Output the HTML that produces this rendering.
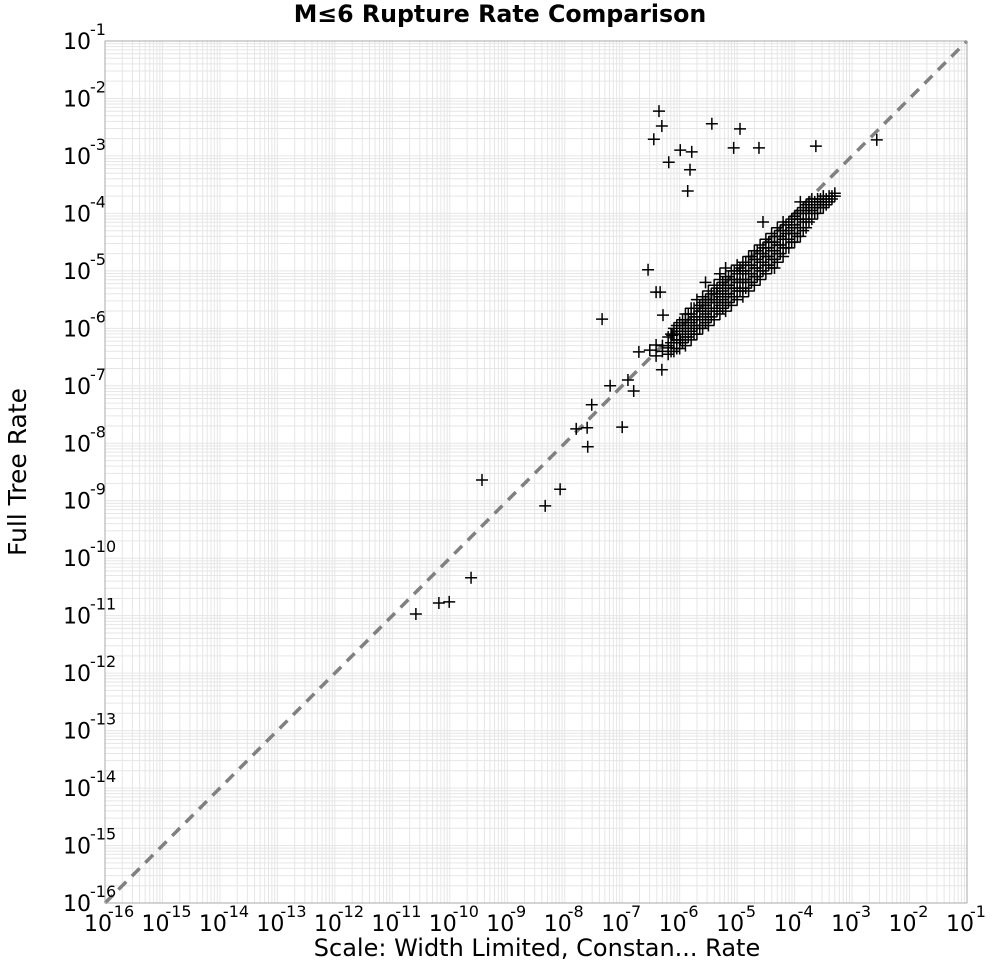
<!DOCTYPE html>
<html><head><meta charset="utf-8"><style>
body{margin:0;background:#fff;}
svg{display:block;font-family:"Liberation Sans","DejaVu Sans",sans-serif;}
</style></head><body>
<svg id="chart" width="1000" height="965" xmlns="http://www.w3.org/2000/svg">
<text x="500" y="22" text-anchor="middle" font-size="23.7" font-weight="bold" font-family="DejaVu Sans, sans-serif">M≤6 Rupture Rate Comparison</text>
<text x="537" y="956" text-anchor="middle" font-size="24" font-family="DejaVu Sans, sans-serif">Scale: Width Limited, Constan... Rate</text>
<text x="0" y="0" transform="translate(26,472) rotate(-90)" text-anchor="middle" font-size="25" font-family="DejaVu Sans, sans-serif">Full Tree Rate</text>
<g id="grid"></g><g id="diag"></g><g id="pts"></g><g id="ticks"></g>
<rect x="105" y="41" width="862" height="862" fill="none" stroke="#aaa" stroke-width="1"/>
</svg>
<script>
const xTickExps = [-16,-15,-14,-13,-12,-11,-10,-9,-8,-7,-6,-5,-4,-3,-2,-1];
const yTickExps = [-16,-15,-14,-13,-12,-11,-10,-9,-8,-7,-6,-5,-4,-3,-2,-1];
const outlierX = [-6.36,-6.31,-6.45,-5.44,-4.95,-5.06,-4.62,-5.99,-5.79,-6.19,-5.82,-5.86,-3.63,-2.57,-6.55,-6.34,-6.41,-7.35,-6.29,-6.71,-6.52,-6.41,-6.31,-7.21,-6.90,-6.80,-7.53,-7.61,-7.00,-7.80,-7.60,-9.44,-8.08,-8.34,-9.63,-10.19,-10.01,-10.59,-6.13,-5.99,-6.41,-6.20,-5.55,-5.30,-4.55,-4.35];
const outlierY = [-2.22,-2.48,-2.71,-2.44,-2.53,-2.86,-2.86,-2.90,-2.93,-3.11,-3.24,-3.61,-2.83,-2.72,-4.98,-5.37,-5.37,-5.84,-5.77,-6.41,-6.38,-6.29,-6.72,-7.00,-6.90,-7.09,-7.33,-7.73,-7.72,-7.75,-8.06,-8.64,-8.80,-9.09,-10.34,-10.78,-10.76,-10.97,-6.12,-6.20,-6.48,-6.34,-5.20,-5.05,-4.15,-4.95];
const clusterX = [
-6.3,-6.3,-6.2,-6.2,-6.2,-6.1,-6.1,-6.1,-6.1,-6.0,-6.0,-6.0,-6.0,
-5.9,-5.9,-5.9,-5.9,-5.9,-5.8,-5.8,-5.8,-5.8,-5.8,-5.7,-5.7,-5.7,-5.7,-5.7,
-5.6,-5.6,-5.6,-5.6,-5.6,-5.5,-5.5,-5.5,-5.5,-5.5,-5.4,-5.4,-5.4,-5.4,-5.4,
-5.3,-5.3,-5.3,-5.3,-5.3,-5.2,-5.2,-5.2,-5.2,-5.2,-5.2,-5.1,-5.1,-5.1,-5.1,-5.1,
-5.0,-5.0,-5.0,-5.0,-5.0,-4.9,-4.9,-4.9,-4.9,-4.9,-4.8,-4.8,-4.8,-4.8,-4.8,
-4.7,-4.7,-4.7,-4.7,-4.7,-4.6,-4.6,-4.6,-4.6,-4.6,-4.5,-4.5,-4.5,-4.5,-4.5,
-4.4,-4.4,-4.4,-4.4,-4.4,-4.3,-4.3,-4.3,-4.3,-4.3,-4.2,-4.2,-4.2,-4.2,-4.2,
-4.1,-4.1,-4.1,-4.1,-4.0,-4.0,-4.0,-4.0,-3.9,-3.9,-3.9,-3.9,-3.9,
-3.8,-3.8,-3.8,-3.8,-3.7,-3.7,-3.7,-3.7,-3.6,-3.6,-3.6,-3.5,-3.5,-3.5,-3.4,-3.4,-3.3,-3.3];
const clusterY = [
-6.4,-6.3,-6.45,-6.3,-6.15,-6.4,-6.25,-6.1,-6.0,-6.35,-6.2,-6.05,-5.9,
-6.3,-6.15,-6.0,-5.85,-5.75,-6.2,-6.05,-5.9,-5.75,-5.65,-6.1,-5.95,-5.8,-5.65,-5.5,
-6.0,-5.85,-5.7,-5.55,-5.45,-5.95,-5.8,-5.65,-5.5,-5.35,-5.85,-5.7,-5.55,-5.4,-5.25,
-5.75,-5.6,-5.45,-5.3,-5.15,-5.7,-5.55,-5.4,-5.25,-5.1,-4.95,-5.6,-5.45,-5.3,-5.15,-5.0,
-5.5,-5.35,-5.2,-5.05,-4.9,-5.45,-5.3,-5.15,-5.0,-4.85,-5.35,-5.2,-5.05,-4.9,-4.75,
-5.25,-5.1,-4.95,-4.8,-4.65,-5.15,-5.0,-4.85,-4.7,-4.55,-5.05,-4.9,-4.75,-4.6,-4.45,
-4.95,-4.8,-4.65,-4.5,-4.35,-4.85,-4.7,-4.55,-4.4,-4.25,-4.75,-4.6,-4.45,-4.3,-4.15,
-4.6,-4.45,-4.3,-4.15,-4.5,-4.35,-4.2,-4.05,-4.4,-4.25,-4.1,-3.95,-3.8,
-4.25,-4.1,-3.95,-3.85,-4.1,-3.95,-3.85,-3.75,-4.0,-3.85,-3.75,-3.9,-3.8,-3.7,-3.8,-3.7,-3.7,-3.65];
const cluster2X = [
-6.15,-6.15,-6.15,-6.05,-6.05,-6.05,-6.05,-5.95,-5.95,-5.95,-5.95,-5.85,-5.85,-5.85,-5.85,
-5.75,-5.75,-5.75,-5.75,-5.65,-5.65,-5.65,-5.65,-5.55,-5.55,-5.55,-5.55,-5.45,-5.45,-5.45,-5.45,
-5.35,-5.35,-5.35,-5.35,-5.25,-5.25,-5.25,-5.25,-5.15,-5.15,-5.15,-5.15,-5.05,-5.05,-5.05,-5.05,
-4.95,-4.95,-4.95,-4.95,-4.85,-4.85,-4.85,-4.85,-4.75,-4.75,-4.75,-4.75,-4.65,-4.65,-4.65,-4.65,
-4.55,-4.55,-4.55,-4.55,-4.45,-4.45,-4.45,-4.45,-4.35,-4.35,-4.35,-4.35,-4.25,-4.25,-4.25,-4.25,
-4.15,-4.15,-4.15,-4.15,-4.05,-4.05,-4.05,-4.05,-3.95,-3.95,-3.95,-3.95,-3.85,-3.85,-3.85,-3.85,
-3.75,-3.75,-3.75,-3.75,-3.65,-3.65,-3.65,-3.55,-3.55,-3.55,-3.45,-3.45,-3.35,-3.35];
const cluster2Y = [
-6.4,-6.25,-6.1,-6.35,-6.2,-6.05,-5.95,-6.25,-6.1,-5.95,-5.85,-6.15,-6.0,-5.85,-5.75,
-6.1,-5.95,-5.8,-5.65,-6.0,-5.85,-5.7,-5.6,-5.9,-5.75,-5.6,-5.5,-5.8,-5.65,-5.5,-5.4,
-5.7,-5.55,-5.4,-5.3,-5.65,-5.5,-5.35,-5.2,-5.55,-5.4,-5.25,-5.1,-5.45,-5.3,-5.15,-5.0,
-5.35,-5.2,-5.05,-4.95,-5.3,-5.15,-5.0,-4.85,-5.2,-5.05,-4.9,-4.75,-5.1,-4.95,-4.8,-4.65,
-5.0,-4.85,-4.7,-4.6,-4.9,-4.75,-4.6,-4.5,-4.8,-4.65,-4.5,-4.4,-4.7,-4.55,-4.4,-4.3,
-4.6,-4.45,-4.35,-4.2,-4.5,-4.35,-4.25,-4.1,-4.4,-4.25,-4.1,-4.0,-4.3,-4.15,-4.0,-3.9,
-4.15,-4.0,-3.9,-3.8,-4.0,-3.9,-3.8,-3.9,-3.8,-3.75,-3.85,-3.75,-3.75,-3.7];

const L=105,T=41,W=862,H=862,minE=-16,maxE=-1;
const sx = e => L + (e-minE)/(maxE-minE)*W;
const sy = e => T + H - (e-minE)/(maxE-minE)*H;
const NS="http://www.w3.org/2000/svg";
function mk(tag,parent){const el=document.createElementNS(NS,tag);parent.appendChild(el);return el;}
const grid=document.getElementById('grid'),diag=document.getElementById('diag'),pts=document.getElementById('pts'),ticks=document.getElementById('ticks');
const bg=mk('rect',grid);
bg.setAttribute('x',L);bg.setAttribute('y',T);bg.setAttribute('width',W);bg.setAttribute('height',H);bg.setAttribute('fill','#fff');


for(let d=minE; d<maxE; d++){
  for(let k=1;k<=9;k++){
    const e=d+Math.log10(k);
    const vx=mk('line',grid);
    vx.setAttribute('x1',sx(e));vx.setAttribute('x2',sx(e));vx.setAttribute('y1',T);vx.setAttribute('y2',T+H);
    vx.setAttribute('stroke','#e6e6e6');vx.setAttribute('stroke-width','1');
    
    
    const hy=mk('line',grid);
    hy.setAttribute('y1',sy(e));hy.setAttribute('y2',sy(e));hy.setAttribute('x1',L);hy.setAttribute('x2',L+W);
    hy.setAttribute('stroke','#e6e6e6');hy.setAttribute('stroke-width','1');
    
    
  }
}
const dl=mk('line',diag);
dl.setAttribute('x1',sx(minE));dl.setAttribute('y1',sy(minE));dl.setAttribute('x2',sx(maxE));dl.setAttribute('y2',sy(maxE));
dl.setAttribute('stroke','#808080');dl.setAttribute('stroke-width','3.5');dl.setAttribute('stroke-dasharray','11 8');


function cross(ex,ey){
  const x=sx(ex),y=sy(ey);
  const p=mk('path',pts);
  p.setAttribute('d',`M${x-6} ${y}H${x+6}M${x} ${y-6}V${y+6}`);
  p.setAttribute('stroke','#000');p.setAttribute('stroke-width','1.5');
  
  
}
for(let i=0;i<clusterX.length;i++) cross(clusterX[i],clusterY[i]);
for(let i=0;i<cluster2X.length;i++) cross(cluster2X[i],cluster2Y[i]);
for(let i=0;i<outlierX.length;i++) cross(outlierX[i],outlierY[i]);
xTickExps.forEach(e=>{
  const t=mk('text',ticks);
  t.setAttribute('x',sx(e)-7);t.setAttribute('y',931);t.setAttribute('font-size','22');t.setAttribute('text-anchor','middle');
  t.setAttribute('font-family','DejaVu Sans, sans-serif');
  
  
  t.textContent='10';
  const s=mk('text',ticks);
  s.setAttribute('x',sx(e)+3);s.setAttribute('y',917);s.setAttribute('font-size','16');s.setAttribute('text-anchor','start');
  s.setAttribute('font-family','DejaVu Sans, sans-serif');
  
  
  s.textContent=String(e);
});
yTickExps.forEach(e=>{
  const t=mk('text',ticks);
  t.setAttribute('x',91);t.setAttribute('y',sy(e)+8);t.setAttribute('font-size','22');t.setAttribute('text-anchor','end');
  t.setAttribute('font-family','DejaVu Sans, sans-serif');
  
  
  t.textContent='10';
  const s=mk('text',ticks);
  s.setAttribute('x',90);s.setAttribute('y',sy(e)-6);s.setAttribute('font-size','16');
  s.setAttribute('font-family','DejaVu Sans, sans-serif');
  
  
  s.textContent=String(e);
});
</script>
</body></html>
